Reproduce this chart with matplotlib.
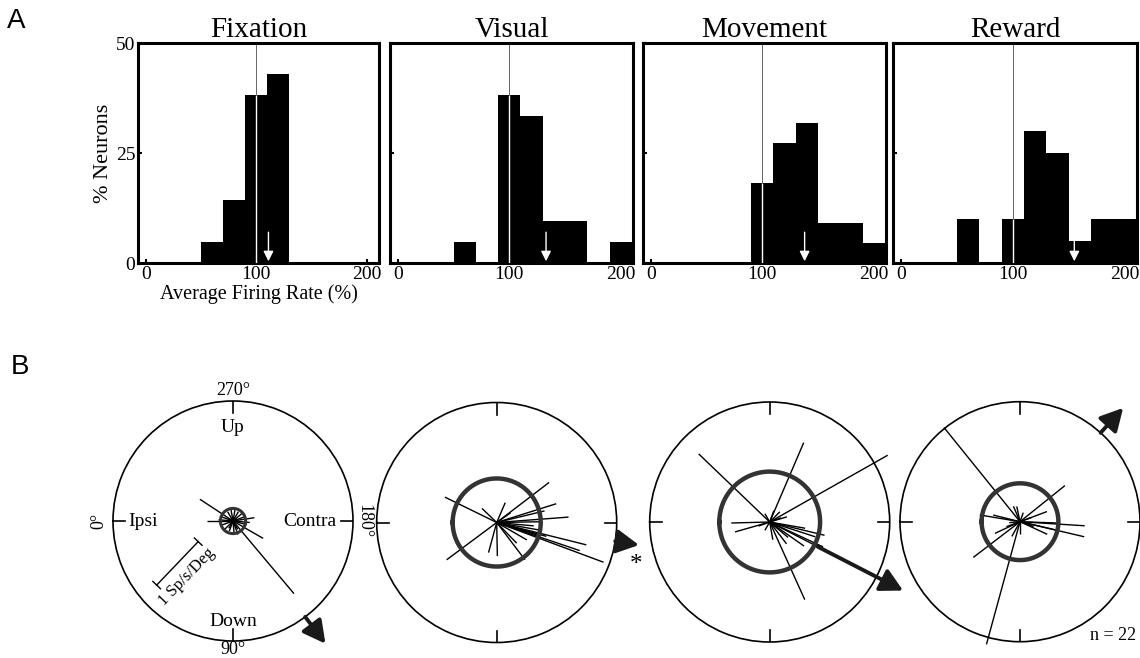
import numpy as np
import matplotlib
matplotlib.use('Agg')
import matplotlib.pyplot as plt

plt.rcParams['font.family'] = ['Liberation Serif', 'DejaVu Serif']

# ---------------- Data ----------------
conditions = ['Fixation', 'Visual', 'Movement', 'Reward']
bin_left = [50, 70, 90, 110, 130, 150, 170, 190]
bin_width = 20
fixation_pct = [4.8, 14.3, 38.1, 42.9, 0, 0, 0, 0]
visual_pct = [4.8, 0, 38.1, 33.3, 9.5, 9.5, 0, 4.8]
movement_pct = [0, 0, 18.2, 27.3, 31.8, 9.1, 9.1, 4.5]
reward_pct = [10, 0, 10, 30, 25, 5, 10, 10]
mean_rates = [111, 133, 138, 155]
x_ticks = [0, 100, 200]
y_ticks = [0, 25, 50]

# polar tuning vectors (theta in deg: 0=Ipsi, 90=Down, 180=Contra, 270=Up; r relative to outer circle)
fix_theta = [130, 326.7, 150, 0, 188.7, 20, 45, 70, 95, 110, 165, 200, 220, 240, 260, 280, 300, 340, 355, 175, 120, 60]
fix_r = [0.79, 0.33, 0.29, 0.22, 0.18, 0.10, 0.11, 0.09, 0.10, 0.12, 0.12, 0.10, 0.11, 0.09, 0.10, 0.11, 0.09, 0.10, 0.12, 0.14, 0.08, 0.07]
vis_theta = [333.9, 36.7, 217.4, 316.3, 246.7, 74.8, 91.1, 127.2, 150, 197.5, 193.6, 184.3, 174.8, 166, 161.3, 159.6, 170, 181, 164.4, 162.9, 134, 215]
vis_r = [0.48, 0.52, 0.55, 0.17, 0.18, 0.26, 0.28, 0.39, 0.29, 0.52, 0.41, 0.60, 0.31, 0.77, 0.73, 0.95, 0.38, 0.36, 0.43, 0.35, 0.24, 0.14]
mov_theta = [316.2, 246.8, 209.5, 1.5, 16, 196.7, 166.4, 114.3, 127.6, 155, 152.8, 162, 225, 140, 170, 100, 200, 60, 250, 300, 20, 145]
mov_r = [0.82, 0.72, 1.13, 0.32, 0.30, 0.15, 0.47, 0.71, 0.23, 0.49, 1.10, 0.40, 0.12, 0.20, 0.30, 0.15, 0.10, 0.08, 0.10, 0.08, 0.10, 0.35]
rew_theta = [308.9, 74.7, 218.8, 37.4, 176.4, 166.8, 350.5, 346, 200.6, 155.2, 25, 293, 282, 61, 167, 178, 90, 20, 160, 250, 200, 5]
rew_r = [1.01, 1.06, 0.48, 0.49, 0.54, 0.55, 0.34, 0.23, 0.24, 0.25, 0.23, 0.14, 0.13, 0.14, 0.33, 0.33, 0.10, 0.12, 0.12, 0.08, 0.10, 0.09]
mean_circle_r = [0.105, 0.367, 0.42, 0.32]
pop_theta = [127, 171, 152.8, 227.8]
pop_r = [1.28, 1.20, 1.25, 1.28]
pop_base = [1.0, 1.0, 0.45, 1.0]
n_cells = 22

W, H = 1140, 658
fig = plt.figure(figsize=(W / 100, H / 100), dpi=100)


def rect(x0, y0, x1, y1):
    return [x0 / W, 1 - y1 / H, (x1 - x0) / W, (y1 - y0) / H]


# ---------------- Panel A: histograms ----------------
hist_pct = [fixation_pct, visual_pct, movement_pct, reward_pct]
panel_x = [(138, 379), (390, 633), (643, 886), (893, 1137)]
for i, (name, pct) in enumerate(zip(conditions, hist_pct)):
    x0, x1 = panel_x[i]
    ax = fig.add_axes(rect(x0, 43, x1, 263))
    ax.bar(bin_left, pct, width=bin_width, align='edge', color='black',
           edgecolor='none', zorder=2)
    ax.axvline(100, color='0.4', lw=0.7, zorder=1)
    # white part of the 100% line across the bar containing 100
    for bl, p in zip(bin_left, pct):
        if bl <= 100 < bl + bin_width and p > 0:
            ax.vlines(100, 0, p, color='white', lw=1.0, zorder=3)
    ax.annotate('', xy=(mean_rates[i], 0.4), xytext=(mean_rates[i], 7.0),
                arrowprops=dict(arrowstyle='-|>', color='white', lw=1.0,
                                mutation_scale=15, shrinkA=0, shrinkB=0),
                zorder=5)
    ax.set_xlim(-7, 211)
    ax.set_ylim(0, 50)
    ax.set_xticks(x_ticks)
    ax.set_xticklabels([str(t) for t in x_ticks], fontsize=14)
    ax.set_yticks(y_ticks)
    if i == 0:
        ax.set_yticklabels([str(t) for t in y_ticks], fontsize=14)
        ax.set_ylabel('% Neurons', fontsize=16, labelpad=2)
        ax.set_xlabel('Average Firing Rate (%)', fontsize=14.5, labelpad=1)
    else:
        ax.set_yticklabels([])
    ax.tick_params(direction='in', length=3, width=1.5, pad=2)
    for s in ax.spines.values():
        s.set_linewidth(2.2)
    ax.set_title(name, fontsize=21, pad=4)

fig.text(16 / W, 1 - 21 / H, 'A', fontsize=20, family='Liberation Sans',
         ha='center', va='center')
fig.text(20 / W, 1 - 367 / H, 'B', fontsize=20, family='Liberation Sans',
         ha='center', va='center')

# ---------------- Panel B: polar plots ----------------
centers = [(233, 521), (496.7, 522.5), (769.7, 522), (1020, 521.7)]
R = 120
thetas = [fix_theta, vis_theta, mov_theta, rew_theta]
radii = [fix_r, vis_r, mov_r, rew_r]
polar_axes = []
for i, (cx, cy) in enumerate(centers):
    ax = fig.add_axes(rect(cx - R, cy - R, cx + R, cy + R), projection='polar')
    ax.set_theta_zero_location('W')
    ax.set_theta_direction(1)
    ax.set_ylim(0, 1)
    ax.set_xticks([])
    ax.set_yticks([])
    ax.grid(False)
    ax.patch.set_alpha(0)
    ax.spines['polar'].set_linewidth(1.2)
    for t in [0, 90, 180, 270]:
        ax.plot([np.deg2rad(t)] * 2, [0.9, 1.0], color='black', lw=1.2)
    for t, r in zip(thetas[i], radii[i]):
        ax.plot([np.deg2rad(t)] * 2, [0, r], color='black', lw=1.0,
                clip_on=False, solid_capstyle='butt')
    circ = np.linspace(0, 2 * np.pi, 300)
    ax.plot(circ, np.full_like(circ, mean_circle_r[i]), color='#333333',
            lw=3.2 if i > 0 else 2.2, clip_on=False)
    th = np.deg2rad(pop_theta[i])
    ax.annotate('', xy=(th, pop_r[i]), xytext=(th, pop_base[i]),
                arrowprops=dict(arrowstyle='-|>,head_length=0.75,head_width=0.4',
                                color='#1a1a1a', lw=2.8, mutation_scale=18,
                                shrinkA=0, shrinkB=0),
                annotation_clip=False)
    polar_axes.append(ax)

ax = polar_axes[0]
d = np.deg2rad
ax.text(d(270), 1.09, '270°', fontsize=13, ha='center', va='center')
ax.text(d(270), 0.78, 'Up', fontsize=14, ha='center', va='center')
ax.text(d(90), 0.84, 'Down', fontsize=14, ha='center', va='center')
ax.text(d(90), 1.075, '90°', fontsize=13, ha='center', va='center')
ax.text(d(0), 0.75, 'Ipsi', fontsize=14, ha='center', va='center')
ax.text(d(180), 0.64, 'Contra', fontsize=14, ha='center', va='center')
ax.text(d(0), 1.12, '0°', fontsize=13, ha='center', va='center', rotation=90)
ax.text(d(180), 1.09, '180°', fontsize=13, ha='center', va='center', rotation=270)

# scale bar (1 Sp/s/Deg)
p1 = np.array([0.182, 0.233])
p2 = np.array([0.355, 0.414])
u = (p2 - p1) / np.linalg.norm(p2 - p1)
perp = np.array([-u[1], u[0]]) * 0.022
ax.plot([p1[0], p2[0]], [p1[1], p2[1]], color='black', lw=1.0, transform=ax.transAxes)
for p in (p1, p2):
    ax.plot([p[0] - perp[0], p[0] + perp[0]], [p[1] - perp[1], p[1] + perp[1]],
            color='black', lw=1.0, transform=ax.transAxes)
ax.text(0.307, 0.268, '1 Sp/s/Deg', fontsize=12, rotation=46, ha='center',
        va='center', transform=ax.transAxes, rotation_mode='anchor')

polar_axes[1].text(d(163), 1.21, '*', fontsize=18, ha='center', va='center')
fig.text(1113 / W, 1 - 635 / H, f'n = {n_cells}', fontsize=13, ha='center', va='center')

fig.savefig('out.png', dpi=100)
